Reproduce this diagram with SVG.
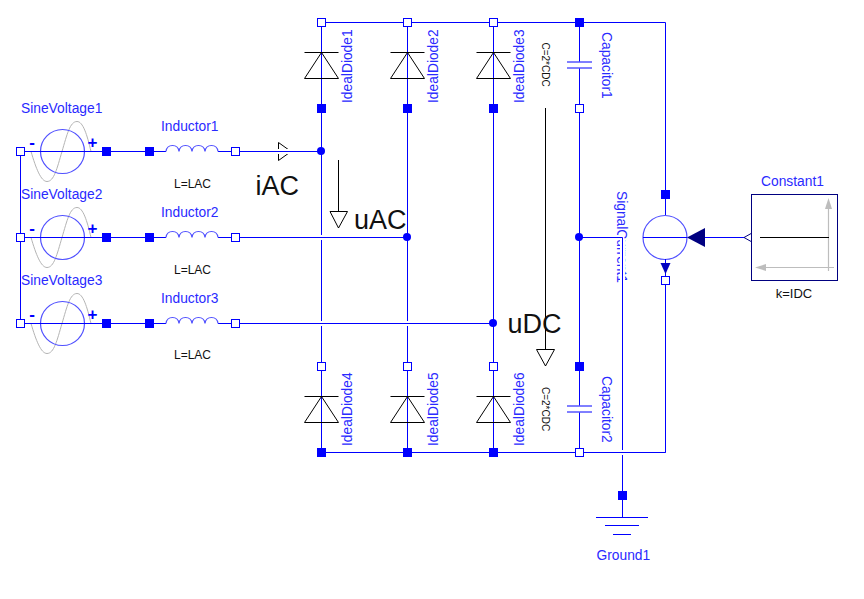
<svg xmlns="http://www.w3.org/2000/svg" xmlns:xlink="http://www.w3.org/1999/xlink" width="864" height="599" viewBox="0 0 864 599">
<style>
text{font-family:"Liberation Sans",Arial,sans-serif;fill:#2a2aff;font-size:13.8px}
text.p{fill:#111;font-size:12px;text-anchor:middle}
text.c{fill:#111;font-size:10px}
text.big{fill:#111;font-size:27px}
text.sign{font-size:17px;font-weight:bold;fill:#0000ff;text-anchor:middle}
.wire{fill:none;stroke:#0000ff;stroke-width:1}
.halo{fill:none;stroke:#fff;stroke-width:5}
.soft{fill:none;stroke:#5050ff;stroke-width:1.2}
.blk{fill:none;stroke:#000;stroke-width:1}
.tri{fill:#fff;stroke:#000;stroke-width:1}
.sine{fill:none;stroke:#b4b4b4;stroke-width:1}
.po{fill:#fff;stroke:#0000ff;stroke-width:1}
.pf{fill:#0000ff;stroke:#0000ff;stroke-width:1}
.dot{fill:#0000ff}
.axis{fill:none;stroke:#bdbdbd;stroke-width:1.2}
.axh{fill:#bdbdbd}
</style>
<defs>
<rect id="po" class="po" x="-4" y="-4" width="8" height="8"/>
<rect id="pf" class="pf" x="-4" y="-4" width="8" height="8"/>
<g id="diode">
<path class="blk" d="M-17 30H17M0 30L-17 56H17Z"/>
</g>
<g id="source">
<path class="sine" d="M31 0C36 17 41 30 47 30C54 30 57 17 62 0C67 -17 70 -30 77 -30C83 -30 87 -17 91 0"/>
<circle class="soft" cx="62.5" cy="0" r="22"/>
<path class="wire" d="M20.5 0H106.5"/>
<text class="sign" x="32" y="-4">-</text>
<text class="sign" x="92.5" y="-4">+</text>
</g>
<g id="inductor">
<path class="wire" d="M149.5 0H166M218 0H235.5"/>
<path class="soft" d="M166 0C167 -8 178 -8 179 0C180 -8 191 -8 192 0C193 -8 204 -8 205 0C206 -8 217 -8 218 0"/>
</g>
<g id="cap">
<path class="wire" d="M0 0V39M0 46V86"/>
<path class="blk" style="stroke:#0000ff" d="M-12.500 39.500H12.500M-12.500 45.500H12.500"/>
</g>
</defs>

<g id="SignalCurrent1-label">
<text transform="translate(617 191) rotate(90)">SignalCurrent1</text>
</g>

<g id="iAC">
<path class="tri" d="M278.500 142.500L291 151.500L278.500 160.500Z"/>
<text class="big" x="255.500" y="195">iAC</text>
</g>

<g id="connectors">
<path class="wire" d="M321.500 108.500V366.500M407.500 108.500V366.500M493.500 108.500V366.500M579.500 108.500V366.500"/>
<path class="wire" d="M321.500 22.500H665.500V190M665.500 284V452.500H321.500"/>
<path class="wire" d="M20.500 151.500V323.500M106.500 151.500H149.500M106.500 237.500H149.500M106.500 323.500H149.500"/>
<path class="wire" d="M705 237.500H744"/>
<path class="halo" d="M622.500 240V449"/>
<path class="wire" d="M622.500 237.500V495"/>
<path class="halo" d="M584 237.500H620M584 452.500H660"/>
<path class="wire" d="M579.500 237.500H622.500M579.500 452.500H665.500"/>
<path class="halo" d="M240 151.500H317M240 237.500H403M240 323.500H489"/>
<path class="wire" d="M235.500 151.500H321.500M235.500 237.500H407.500M235.500 323.500H493.500"/>
</g>

<g id="SineVoltage1"><use xlink:href="#source" href="#source" transform="translate(0 151.500)"/><use href="#po" x="20.500" y="151.500"/><use href="#pf" x="106.500" y="151.500"/><text x="21" y="113">SineVoltage1</text></g>
<g id="SineVoltage2"><use href="#source" transform="translate(0 237.500)"/><use href="#po" x="20.500" y="237.500"/><use href="#pf" x="106.500" y="237.500"/><text x="21" y="199">SineVoltage2</text></g>
<g id="SineVoltage3"><use href="#source" transform="translate(0 323.500)"/><use href="#po" x="20.500" y="323.500"/><use href="#pf" x="106.500" y="323.500"/><text x="21" y="285">SineVoltage3</text></g>

<g id="Inductor1"><use href="#inductor" transform="translate(0 151.500)"/><use href="#pf" x="149.500" y="151.500"/><use href="#po" x="235.500" y="151.500"/><text x="161" y="131">Inductor1</text><text class="p" x="192.500" y="188">L=LAC</text></g>
<g id="Inductor2"><use href="#inductor" transform="translate(0 237.500)"/><use href="#pf" x="149.500" y="237.500"/><use href="#po" x="235.500" y="237.500"/><text x="161" y="217">Inductor2</text><text class="p" x="192.500" y="274">L=LAC</text></g>
<g id="Inductor3"><use href="#inductor" transform="translate(0 323.500)"/><use href="#pf" x="149.500" y="323.500"/><use href="#po" x="235.500" y="323.500"/><text x="161" y="303">Inductor3</text><text class="p" x="192.500" y="359">L=LAC</text></g>

<g id="IdealDiode1"><path class="wire" d="M321.500 22.500V108.500"/><use href="#diode" transform="translate(321.500 22.500)"/><use href="#po" x="321.500" y="22.500"/><use href="#pf" x="321.500" y="108.500"/><text transform="translate(351.500 103) rotate(-90)">IdealDiode1</text></g>
<g id="IdealDiode2"><path class="wire" d="M407.500 22.500V108.500"/><use href="#diode" transform="translate(407.500 22.500)"/><use href="#po" x="407.500" y="22.500"/><use href="#pf" x="407.500" y="108.500"/><text transform="translate(437.500 103) rotate(-90)">IdealDiode2</text></g>
<g id="IdealDiode3"><path class="wire" d="M493.500 22.500V108.500"/><use href="#diode" transform="translate(493.500 22.500)"/><use href="#po" x="493.500" y="22.500"/><use href="#pf" x="493.500" y="108.500"/><text transform="translate(523.500 103) rotate(-90)">IdealDiode3</text></g>
<g id="IdealDiode4"><path class="wire" d="M321.500 366.500V452.500"/><use href="#diode" transform="translate(321.500 366.500)"/><use href="#po" x="321.500" y="366.500"/><use href="#pf" x="321.500" y="452.500"/><text transform="translate(351.500 446) rotate(-90)">IdealDiode4</text></g>
<g id="IdealDiode5"><path class="wire" d="M407.500 366.500V452.500"/><use href="#diode" transform="translate(407.500 366.500)"/><use href="#po" x="407.500" y="366.500"/><use href="#pf" x="407.500" y="452.500"/><text transform="translate(437.500 446) rotate(-90)">IdealDiode5</text></g>
<g id="IdealDiode6"><path class="wire" d="M493.500 366.500V452.500"/><use href="#diode" transform="translate(493.500 366.500)"/><use href="#po" x="493.500" y="366.500"/><use href="#pf" x="493.500" y="452.500"/><text transform="translate(523.500 446) rotate(-90)">IdealDiode6</text></g>

<g id="Capacitor1"><use href="#cap" transform="translate(579.500 22.500)"/><use href="#pf" x="579.500" y="22.500"/><use href="#po" x="579.500" y="108.500"/><text transform="translate(602 32) rotate(90)">Capacitor1</text><text class="c" transform="translate(541.500 42.500) rotate(90)">C=2*CDC</text></g>
<g id="Capacitor2"><use href="#cap" transform="translate(579.500 366.500)"/><use href="#pf" x="579.500" y="366.500"/><use href="#po" x="579.500" y="452.500"/><text transform="translate(602 376) rotate(90)">Capacitor2</text><text class="c" transform="translate(541.500 387) rotate(90)">C=2*CDC</text></g>

<g id="uAC">
<path class="blk" d="M338.500 160V228"/>
<path class="tri" d="M330 211.500H347.500L338.500 228Z"/>
<text class="big" x="354" y="229">uAC</text>
</g>
<g id="uDC">
<path class="blk" d="M545.500 108V366"/>
<path class="tri" d="M536.500 349.500H554.500L545.500 366Z"/>
<text class="big" x="507.500" y="333">uDC</text>
</g>

<g id="SignalCurrent1">
<circle class="soft" cx="665" cy="237.500" r="22"/>
<path class="wire" d="M643 237.500H687M665.500 190V215M665.500 259V276"/>
<path d="M687 237.500L705 228V247Z" fill="#000080"/>
<path d="M660.500 263H670.500L665.500 274Z" fill="#0000c0"/>
<use href="#pf" x="665.500" y="194.500"/>
<use href="#po" x="665.500" y="280.500"/>
</g>

<g id="Constant1">
<path d="M744 237.500L752 233V242Z" fill="#fff" stroke="#000080" stroke-width="1"/>
<rect x="751.500" y="194.500" width="86" height="86" fill="#fff" stroke="#000080" stroke-width="1"/>
<path class="axis" d="M828.500 209V271M766 267.500H834"/>
<path class="axh" d="M828.500 198L832 209H825Z"/>
<path class="axh" d="M755 267.500L766 264V271Z"/>
<path class="blk" d="M760 237.500H829"/>
<text x="761" y="186">Constant1</text>
<text class="p" style="font-size:13px" x="794" y="298">k=IDC</text>
</g>

<g id="Ground1">
<path class="wire" d="M622.500 495V517.500M596 517.500H648M605 525.500H639M613 534.500H631"/>
<use href="#pf" x="622.500" y="495.500"/>
<text x="596.500" y="560">Ground1</text>
</g>

<g id="junctions">
<circle class="dot" cx="321" cy="151" r="4"/>
<circle class="dot" cx="407" cy="237" r="4"/>
<circle class="dot" cx="493" cy="323" r="4"/>
<circle class="dot" cx="579" cy="237" r="4"/>
</g>
</svg>
